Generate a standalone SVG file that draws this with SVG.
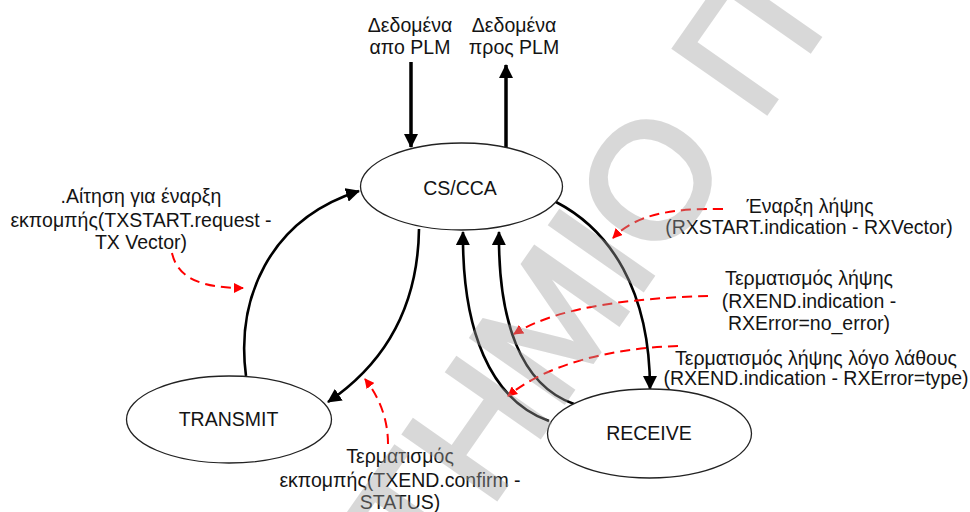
<svg xmlns="http://www.w3.org/2000/svg" width="970" height="512" viewBox="0 0 970 512">
  <style>
    .t { font-family: "Liberation Sans", Arial, sans-serif; font-size: 19.5px; fill: #141414; text-anchor: middle; }
    .state { fill: #fff; stroke: #222; stroke-width: 1.3; }
    .flow { fill: none; stroke: #000; stroke-width: 2.6; marker-end: url(#ah); }
    .io { fill: none; stroke: #000; stroke-width: 3.5; marker-end: url(#ah); }
    .event { fill: none; stroke: #f00; stroke-width: 2; stroke-dasharray: 10 6; marker-end: url(#rh); }
    .wm { font-family: "Liberation Sans", Arial, sans-serif; font-size: 163px; fill: #a0a0a0; stroke: #a0a0a0; stroke-width: 5; stroke-linejoin: miter; opacity: 0.4; }
  </style>
  <defs>
    <marker id="ah" viewBox="0 0 14 14" refX="13" refY="7" markerWidth="14" markerHeight="14" markerUnits="userSpaceOnUse" orient="auto">
      <path d="M0,0 L14,7 L0,14 z" fill="#000"/>
    </marker>
    <marker id="rh" viewBox="0 0 10 10" refX="9" refY="5" markerWidth="10" markerHeight="10" markerUnits="userSpaceOnUse" orient="auto">
      <path d="M0,0 L10,5 L0,10 z" fill="#f00"/>
    </marker>
  </defs>

  <rect width="970" height="512" fill="#fff"/>

  <!-- transitions between states -->
  <g id="connectors">
    <line class="io" x1="411" y1="62" x2="411" y2="147"/>
    <line class="io" x1="506" y1="148" x2="506" y2="65"/>
    <path class="flow" d="M246,376 C236,300 268,220 359,191"/>
    <path class="flow" d="M419,229 C418,300 390,360 328,402"/>
    <path class="flow" d="M556,202 C610,230 650,290 650,389"/>
    <path class="flow" d="M549,421 C490,400 462,330 463,232"/>
    <path class="flow" d="M574,404 C520,385 498,320 499,232"/>
  </g>

  <!-- trigger events -->
  <g id="events">
    <path class="event" d="M172,253 C178,280 205,288 243,288"/>
    <path class="event" d="M388,444 C388,420 380,398 365,379"/>
    <path class="event" d="M723,209 C670,208 635,215 613,238"/>
    <path class="event" d="M708,296 C640,298 560,305 514,334"/>
    <path class="event" d="M678,346 C610,348 545,365 508,396"/>
  </g>

  <g id="cs-cca">
    <ellipse class="state" cx="461.5" cy="186.5" rx="101" ry="43.5"/>
    <text class="t" x="460" y="195">CS/CCA</text>
  </g>
  <g id="transmit">
    <ellipse class="state" cx="229" cy="419.5" rx="102.5" ry="43.5"/>
    <text class="t" x="228.5" y="426">TRANSMIT</text>
  </g>
  <g id="receive">
    <ellipse class="state" cx="649.5" cy="433.5" rx="102" ry="44.5"/>
    <text class="t" x="649" y="440">RECEIVE</text>
  </g>

  <!-- labels -->
  <g id="label-from-plm">
    <text class="t" x="410" y="32">Δεδομένα</text>
    <text class="t" x="410" y="54">απο PLM</text>
  </g>
  <g id="label-to-plm">
    <text class="t" x="514" y="32">Δεδομένα</text>
    <text class="t" x="514" y="54">προς PLM</text>
  </g>
  <g id="label-txstart">
    <text class="t" x="141" y="203">.Αίτηση για έναρξη</text>
    <text class="t" x="141" y="226.5">εκπομπής(TXSTART.request -</text>
    <text class="t" x="141" y="248.5">TX Vector)</text>
  </g>
  <g id="label-txend">
    <text class="t" x="400" y="463">Τερματισμός</text>
    <text class="t" x="400" y="486.5">εκπομπής(TXEND.confirm -</text>
    <text class="t" x="400" y="508.5">STATUS)</text>
  </g>
  <g id="label-rxstart">
    <text class="t" x="810" y="213">Έναρξη λήψης</text>
    <text class="t" x="809" y="233.5">(RXSTART.indication - RXVector)</text>
  </g>
  <g id="label-rxend">
    <text class="t" x="809" y="284.5">Τερματισμός λήψης</text>
    <text class="t" x="809" y="307.5">(RXEND.indication -</text>
    <text class="t" x="809" y="329.5">RXError=no_error)</text>
  </g>
  <g id="label-rxerror">
    <text class="t" x="816" y="364.5">Τερματισμός λήψης λόγο λάθους</text>
    <text class="t" x="816" y="384.5">(RXEND.indication - RXError=type)</text>
  </g>

  <!-- watermark -->
  <g id="watermark" transform="translate(489,509) rotate(-55)">
    <text class="wm" x="-99.6" y="0">ΤΗΜΙΟ Π</text>
  </g>
</svg>
